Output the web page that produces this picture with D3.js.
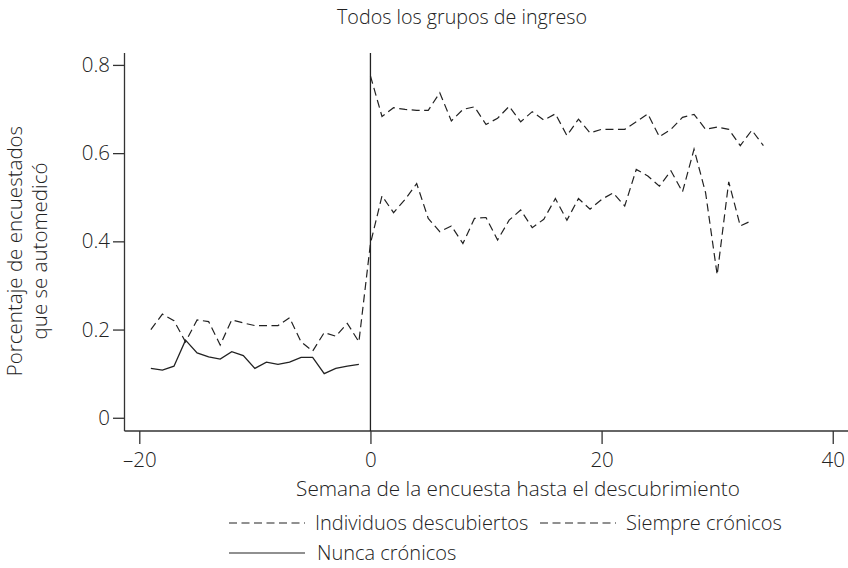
<!DOCTYPE html>
<html>
<head>
<meta charset="utf-8">
<script src="https://cdn.jsdelivr.net/npm/d3@7"></script>
<style>
  body { margin: 0; background: #fff; }
  svg text { font-family: "Open Sans", "Noto Sans", sans-serif; font-weight: 300; fill: #222; }
</style>
</head>
<body>
<svg id="plot" width="848" height="568"></svg>
<script>
// weeks before discovery
let weeksPre = d3.range(-19, 0)
// weeks after discovery
let weeksPost = d3.range(0, 35)

// Individuos descubiertos: -19 .. 33
let descubiertos = [0.200, 0.235, 0.220, 0.172, 0.222, 0.218, 0.165, 0.222, 0.215, 0.209,
  0.209, 0.209, 0.227, 0.172, 0.151, 0.193, 0.185, 0.214, 0.172,
  0.395, 0.503, 0.465, 0.495, 0.531, 0.452, 0.422, 0.435, 0.395, 0.452,
  0.454, 0.403, 0.448, 0.471, 0.431, 0.450, 0.497, 0.448, 0.497, 0.473,
  0.495, 0.510, 0.480, 0.563, 0.548, 0.525, 0.560, 0.512, 0.609, 0.510,
  0.324, 0.535, 0.435, 0.447]
let weeksDesc = d3.range(-19, 34)

// Siempre crónicos: 0 .. 34
let siempre = [0.775, 0.683, 0.703, 0.699, 0.697, 0.697, 0.737, 0.673, 0.699, 0.705,
  0.665, 0.679, 0.706, 0.671, 0.694, 0.675, 0.689, 0.640, 0.677, 0.646,
  0.654, 0.654, 0.654, 0.671, 0.689, 0.637, 0.654, 0.681, 0.688, 0.654,
  0.659, 0.654, 0.617, 0.652, 0.617]

// Nunca crónicos: -19 .. -1
let nunca = [0.112, 0.108, 0.117, 0.176, 0.147, 0.138, 0.133, 0.150, 0.141, 0.112,
  0.126, 0.121, 0.126, 0.137, 0.137, 0.100, 0.112, 0.117, 0.121]

let xTicks = [-20, 0, 20, 40]
let yTicks = [0, 0.2, 0.4, 0.6, 0.8]

let svg = d3.select("#plot")

let x_scale = d3.scaleLinear([-21.28, 41.32], [124.5, 848])
let y_scale = d3.scaleLinear([-0.030, 0.827], [431, 53])

let ink = "#222"
let font = "'Open Sans', 'Noto Sans', sans-serif"

let line = d3.line().x(d => x_scale(d[0])).y(d => y_scale(d[1]))

// axes
let xAxis = d3.axisBottom(x_scale).tickValues(xTicks).tickSize(13).tickPadding(8)
  .tickFormat(d => d < 0 ? "\u2013" + Math.abs(d) : d)
let yAxis = d3.axisLeft(y_scale).tickValues(yTicks).tickSize(11.5).tickPadding(3)
  .tickFormat(d => d === 0 ? "0" : d3.format(".1f")(d))

let gx = svg.append("g")
  .attr("transform", `translate(0,${y_scale.range()[0]})`)
  .call(xAxis)
gx.select(".domain").attr("d", `M${x_scale.range()[0]},0H${x_scale.range()[1]}`)

let gy = svg.append("g")
  .attr("transform", `translate(${x_scale.range()[0]},0)`)
  .call(yAxis)
gy.select(".domain").attr("d", `M0,${y_scale.range()[1]}V${y_scale.range()[0]}`)

svg.selectAll(".domain, .tick line").attr("stroke", "#333").attr("stroke-width", 1.3)
svg.selectAll(".tick text").attr("font-size", 20.5).attr("fill", ink)
  .attr("font-family", font).attr("font-weight", 300)

// discovery line at week 0
svg.append("line")
  .attr("x1", x_scale(0)).attr("x2", x_scale(0))
  .attr("y1", y_scale.range()[1]).attr("y2", y_scale.range()[0])
  .attr("stroke", ink).attr("stroke-width", 1.3)

// series
svg.append("path")
  .datum(weeksDesc.map((w, i) => [w, descubiertos[i]]))
  .attr("d", line).attr("fill", "none").attr("stroke", ink)
  .attr("stroke-width", 1.2).attr("stroke-dasharray", "8,4.5")

svg.append("path")
  .datum(weeksPost.map((w, i) => [w, siempre[i]]))
  .attr("d", line).attr("fill", "none").attr("stroke", ink)
  .attr("stroke-width", 1.2).attr("stroke-dasharray", "8,4.5")

svg.append("path")
  .datum(weeksPre.map((w, i) => [w, nunca[i]]))
  .attr("d", line).attr("fill", "none").attr("stroke", ink)
  .attr("stroke-width", 1.3)

// titles
svg.append("text")
  .attr("x", 462).attr("y", 24)
  .attr("text-anchor", "middle").attr("font-size", 19.7)
  .text("Todos los grupos de ingreso")

svg.append("text")
  .attr("x", 518).attr("y", 496)
  .attr("text-anchor", "middle").attr("font-size", 20.7)
  .text("Semana de la encuesta hasta el descubrimiento")

let ytitle = svg.append("text")
  .attr("text-anchor", "middle").attr("font-size", 20.5)
  .attr("transform", "translate(22,251) rotate(-90)")
ytitle.append("tspan").attr("x", 0).attr("dy", 0).text("Porcentaje de encuestados")
ytitle.append("tspan").attr("x", 0).attr("dy", 25).text("que se automedicó")

// legend
let legendItems = [
  {name: "Individuos descubiertos", x: 229, y: 523, dash: "8,4.5"},
  {name: "Siempre crónicos", x: 540, y: 523, dash: "8,4.5"},
  {name: "Nunca crónicos", x: 229, y: 553, dash: null}
]
let lg = svg.append("g").selectAll("g").data(legendItems).join("g")
  .attr("transform", d => `translate(${d.x},${d.y})`)
lg.append("line")
  .attr("x1", 0).attr("x2", 76).attr("y1", 0).attr("y2", 0)
  .attr("stroke", ink).attr("stroke-width", 1.2)
  .attr("stroke-dasharray", d => d.dash)
lg.append("text")
  .attr("x", d => d.dash ? 86 : 88).attr("y", 7)
  .attr("font-size", 20)
  .text(d => d.name)
</script>
</body>
</html>
